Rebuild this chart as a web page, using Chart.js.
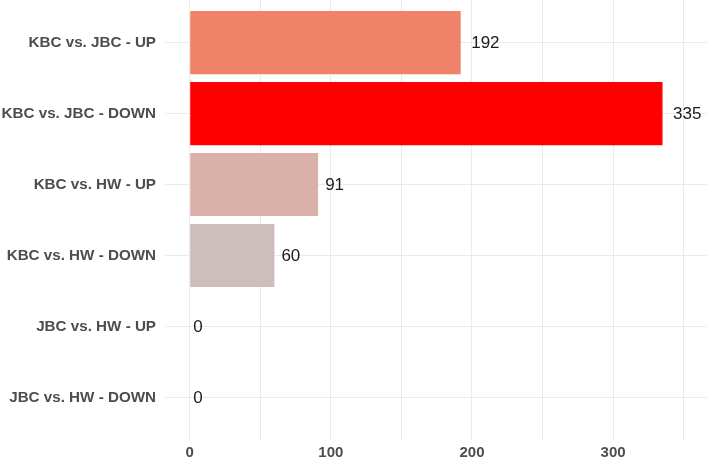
<!DOCTYPE html>
<html>
<head>
<meta charset="utf-8">
<script src="https://cdn.jsdelivr.net/npm/chart.js@4/dist/chart.umd.min.js"></script>
<style>
  html, body { margin: 0; padding: 0; background: #fff; }
  #wrap { width: 708px; height: 461px; }
</style>
</head>
<body>
<div id="wrap"><canvas id="comparisonCounts"></canvas></div>
<script>
var categories = ["KBC vs. JBC - UP", "KBC vs. JBC - DOWN", "KBC vs. HW - UP",
                  "KBC vs. HW - DOWN", "JBC vs. HW - UP", "JBC vs. HW - DOWN"];
var counts = [192, 335, 91, 60, 0, 0];
var barColors = ['#f0826a', '#ff0000', '#d9b1a8', '#cdbdbd', '#cccccc', '#cccccc'];
var xTicks = [0, 100, 200, 300];

var points = [];
for (var i = 0; i < categories.length; i++) {
  points.push({x: counts[i], y: i});
}

// value labels at the end of each bar (gap grows with text width, like hjust)
var barLabels = {
  id: 'barLabels',
  afterDatasetsDraw: function(chart) {
    var c = chart.ctx;
    var meta = chart.getDatasetMeta(0);
    c.save();
    c.font = '17px "Liberation Sans", Arial, sans-serif';
    c.fillStyle = '#1a1a1a';
    c.textAlign = 'left';
    c.textBaseline = 'middle';
    meta.data.forEach(function(bar, i) {
      var txt = String(counts[i]);
      var w = c.measureText(txt).width;
      c.fillText(txt, bar.x + 0.37 * w, bar.y + 1);
    });
    c.restore();
  }
};

var ctx = document.getElementById("comparisonCounts");
new Chart(ctx, {
  type: 'bar',
  data: {
    datasets: [{
      data: points,
      backgroundColor: barColors,
      borderWidth: 0,
      barPercentage: 0.89,
      categoryPercentage: 1
    }]
  },
  plugins: [barLabels],
  options: {
    indexAxis: 'y',
    responsive: true,
    maintainAspectRatio: false,
    animation: false,
    layout: { padding: { top: 0, right: 1, bottom: 0, left: 0 } },
    plugins: { legend: { display: false }, tooltip: { enabled: false } },
    scales: {
      x: {
        type: 'linear',
        min: -17.5,
        max: 366.5,
        border: { display: false },
        grid: { color: '#ebebeb', lineWidth: 1, drawTicks: false },
        afterFit: function(s) { s.paddingLeft = 0; s.paddingRight = 0; s.height = 21; },
        ticks: {
          stepSize: 50,
          includeBounds: false,
          autoSkip: false,
          maxRotation: 0,
          padding: 4,
          color: '#4d4d4d',
          font: { family: '"Liberation Sans", Arial, sans-serif', size: 15, weight: 'bold' },
          callback: function(v) { return xTicks.indexOf(v) >= 0 ? String(v) : ''; }
        }
      },
      y: {
        type: 'linear',
        reverse: true,
        offset: false,
        min: -0.6,
        max: 5.6,
        border: { display: false },
        grid: { color: '#ebebeb', lineWidth: 1, drawTicks: false, offset: false },
        afterFit: function(s) { s.paddingTop = 0; s.paddingBottom = 0; s.width = 165; },
        ticks: {
          stepSize: 1,
          includeBounds: false,
          autoSkip: false,
          padding: 9,
          color: '#4d4d4d',
          font: { family: '"Liberation Sans", Arial, sans-serif', size: 15.2, weight: 'bold' },
          callback: function(v) { return categories[v] !== undefined ? categories[v] : ''; }
        }
      }
    }
  }
});
</script>
</body>
</html>
